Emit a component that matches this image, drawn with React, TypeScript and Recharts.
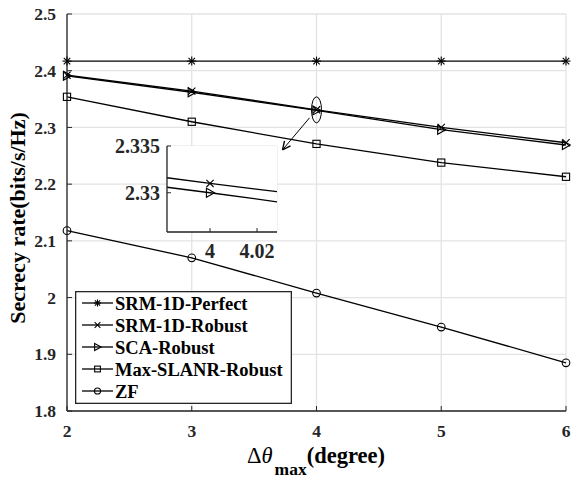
import React from "react";
import { LineChart, Line, XAxis, YAxis, CartesianGrid, Legend, ReferenceDot } from "recharts";

const deltaTheta = [2, 3, 4, 5, 6];
const srmPerfect = [2.417, 2.417, 2.417, 2.417, 2.417];
const srmRobust = [2.392, 2.364, 2.331, 2.3, 2.273];
const scaRobust = [2.391, 2.362, 2.33, 2.296, 2.269];
const maxSlanr = [2.354, 2.31, 2.271, 2.238, 2.213];
const zf = [2.118, 2.07, 2.008, 1.948, 1.885];

const seriesNames = ["SRM-1D-Perfect", "SRM-1D-Robust", "SCA-Robust", "Max-SLANR-Robust", "ZF"];
const seriesKeys = ["perfect", "robust", "sca", "slanr", "zf"];
const markerKinds = ["star", "cross", "tri", "square", "circle"];

const xTicks = [2, 3, 4, 5, 6];
const yTicks = [1.8, 1.9, 2, 2.1, 2.2, 2.3, 2.4, 2.5];
const insetXTicks = [4, 4.02];
const insetYTicks = [2.33, 2.335];

const FONT = "Liberation Serif";
const INK = "#000";
const AXIS = "#262626";

const data = deltaTheta.map((x, i) => ({
  x,
  perfect: srmPerfect[i],
  robust: srmRobust[i],
  sca: scaRobust[i],
  slanr: maxSlanr[i],
  zf: zf[i],
}));

// draws a MATLAB style marker centred on cx, cy
function Marker({ kind, cx, cy, s = 4.5 }: { kind: string; cx: number; cy: number; s?: number }) {
  const st = { stroke: INK, strokeWidth: 1.1, fill: "none" };
  if (kind === "star") {
    const d = s * 0.72;
    return (
      <g {...st}>
        <line x1={cx - s} y1={cy} x2={cx + s} y2={cy} />
        <line x1={cx} y1={cy - s} x2={cx} y2={cy + s} />
        <line x1={cx - d} y1={cy - d} x2={cx + d} y2={cy + d} />
        <line x1={cx - d} y1={cy + d} x2={cx + d} y2={cy - d} />
      </g>
    );
  }
  if (kind === "cross") {
    const d = s * 0.8;
    return (
      <g {...st}>
        <line x1={cx - d} y1={cy - d} x2={cx + d} y2={cy + d} />
        <line x1={cx - d} y1={cy + d} x2={cx + d} y2={cy - d} />
      </g>
    );
  }
  if (kind === "tri") {
    return <polygon {...st} points={`${cx - s * 0.8},${cy - s} ${cx + s},${cy} ${cx - s * 0.8},${cy + s}`} />;
  }
  if (kind === "square") {
    const d = s * 0.8;
    return <rect {...st} x={cx - d} y={cy - d} width={2 * d} height={2 * d} />;
  }
  return <circle {...st} cx={cx} cy={cy} r={s * 0.85} />;
}

const dotFor = (kind: string) => (p: any) => {
  if (p.cx == null || p.cy == null) return <g key={p.index} />;
  return <Marker key={p.index} kind={kind} cx={p.cx} cy={p.cy} />;
};

const tickStyle = { fontFamily: FONT, fontWeight: 700, fontSize: 17.5, fill: "#262626" };
const insetTickStyle = { fontFamily: FONT, fontWeight: 700, fontSize: 20, fill: "#262626" };

const LegendBox = () => (
  <svg width={217} height={113} style={{ display: "block" }}>
    <rect x={0.65} y={0.65} width={215.7} height={111.7} fill="#fff" stroke={AXIS} strokeWidth={1.3} />
    {seriesNames.map((name, i) => {
      const y = 12 + i * 22;
      return (
        <g key={name}>
          <line x1={7} y1={y} x2={38} y2={y} stroke={INK} strokeWidth={1.3} />
          <Marker kind={markerKinds[i]} cx={22.5} cy={y} s={3.6} />
          <text x={40} y={y + 6.5} style={{ fontFamily: FONT, fontWeight: 700, fontSize: 18.5 }} fill="#000">
            {name}
          </text>
        </g>
      );
    })}
  </svg>
);

const XLabel = () => (
  <text x={316} y={463} textAnchor="middle" style={{ fontFamily: FONT, fontSize: 22.5 }} fill="#000">
    <tspan>Δ</tspan>
    <tspan fontStyle="italic">θ</tspan>
    <tspan fontWeight={700} fontSize={17.5} dy={12} dx={2}>max</tspan>
    <tspan fontWeight={700} dy={-12}>(degree)</tspan>
  </text>
);

const YLabel = () => (
  <text
    x={0}
    y={0}
    transform="translate(25, 218) rotate(-90)"
    textAnchor="middle"
    style={{ fontFamily: FONT, fontWeight: 700, fontSize: 22 }}
    fill="#000"
  >
    Secrecy rate(bits/s/Hz)
  </text>
);

// zoom ellipse plus arrow pointing to the inset
const ZoomMark = (p: any) => (
  <g stroke={INK} fill="none" strokeWidth={1}>
    <ellipse cx={p.cx} cy={p.cy} rx={5} ry={13} />
    <line x1={p.cx - 7} y1={p.cy + 8} x2={p.cx - 34} y2={p.cy + 40} />
    <path d={`M${p.cx - 34},${p.cy + 40} L${p.cx - 32},${p.cy + 31} M${p.cx - 34},${p.cy + 40} L${p.cx - 26},${p.cy + 36}`} strokeWidth={1.4} />
  </g>
);

const Inset = () => (
  <div style={{ position: "absolute", left: 100, top: 130 }}>
    <LineChart width={180} height={140} data={data} margin={{ top: 16, right: 3, left: 7, bottom: 8 }}>
      <rect x={67} y={16} width={110} height={85} fill="#fff" />
      <CartesianGrid stroke="#e3e3e3" strokeWidth={1} fill="#fff" />
      <XAxis
        dataKey="x"
        type="number"
        domain={[3.9817, 4.0285]}
        allowDataOverflow
        ticks={insetXTicks}
        height={30}
        tickSize={-4}
        tickMargin={16}
        axisLine={{ stroke: AXIS, strokeWidth: 1.3 }}
        tickLine={{ stroke: AXIS }}
        tick={insetTickStyle}
        interval={0}
      />
      <XAxis xAxisId="top" dataKey="x" type="number" orientation="top" domain={[3.9817, 4.0285]} allowDataOverflow ticks={insetXTicks} height={0} tickSize={-4} tickFormatter={() => ""} axisLine={{ stroke: AXIS, strokeWidth: 1.3 }} tickLine={{ stroke: AXIS }} />
      <YAxis
        type="number"
        domain={[2.3258, 2.335]}
        allowDataOverflow
        ticks={insetYTicks}
        width={60}
        tickSize={-4}
        tickMargin={11}
        axisLine={{ stroke: AXIS, strokeWidth: 1.3 }}
        tickLine={{ stroke: AXIS }}
        tick={insetTickStyle}
        tickFormatter={(v: number) => String(v)}
        interval={0}
      />
      <YAxis yAxisId="right" type="number" orientation="right" domain={[2.3258, 2.335]} allowDataOverflow ticks={insetYTicks} width={0} tickSize={-4} tickFormatter={() => ""} axisLine={{ stroke: AXIS, strokeWidth: 1.3 }} tickLine={{ stroke: AXIS }} />
      <Line dataKey="robust" stroke={INK} strokeWidth={1.3} dot={dotFor("cross")} isAnimationActive={false} />
      <Line dataKey="sca" stroke={INK} strokeWidth={1.3} dot={dotFor("tri")} isAnimationActive={false} />
    </LineChart>
  </div>
);

export default function App() {
  return (
    <div style={{ position: "absolute", left: 0, top: 0, width: 571, height: 478, background: "#fff", fontFamily: FONT }}>
      <LineChart width={571} height={478} data={data} margin={{ top: 14, right: 5, left: 17, bottom: 27 }}>
        <CartesianGrid stroke="#e3e3e3" strokeWidth={1.3} />
        <XAxis
          dataKey="x"
          type="number"
          domain={[2, 6]}
          ticks={xTicks}
          height={40}
          tickSize={-5}
          tickMargin={19}
          axisLine={{ stroke: AXIS, strokeWidth: 1.3 }}
          tickLine={{ stroke: AXIS }}
          tick={tickStyle}
          interval={0}
        />
        <XAxis xAxisId="top" dataKey="x" type="number" orientation="top" domain={[2, 6]} ticks={xTicks} height={0} tickSize={-5} tickFormatter={() => ""} axisLine={{ stroke: AXIS, strokeWidth: 1.3 }} tickLine={{ stroke: AXIS }} />
        <YAxis
          type="number"
          domain={[1.8, 2.5]}
          ticks={yTicks}
          width={50}
          tickSize={-5}
          tickMargin={16}
          axisLine={{ stroke: AXIS, strokeWidth: 1.3 }}
          tickLine={{ stroke: AXIS }}
          tick={tickStyle}
          tickFormatter={(v: number) => String(v)}
          interval={0}
        />
        <YAxis yAxisId="right" type="number" orientation="right" domain={[1.8, 2.5]} ticks={yTicks} width={0} tickSize={-5} tickFormatter={() => ""} axisLine={{ stroke: AXIS, strokeWidth: 1.3 }} tickLine={{ stroke: AXIS }} />
        {seriesKeys.map((k, i) => (
          <Line
            key={k}
            dataKey={k}
            name={seriesNames[i]}
            stroke={INK}
            strokeWidth={1.3}
            dot={dotFor(markerKinds[i])}
            isAnimationActive={false}
          />
        ))}
        <ReferenceDot x={4} y={2.331} shape={ZoomMark} />
        <Legend
          layout="vertical"
          align="center"
          verticalAlign="middle"
          content={() => <LegendBox />}
          wrapperStyle={{ left: 75, top: 291, width: 217, height: 113 }}
        />
        <XLabel />
        <YLabel />
      </LineChart>
      <Inset />
    </div>
  );
}
